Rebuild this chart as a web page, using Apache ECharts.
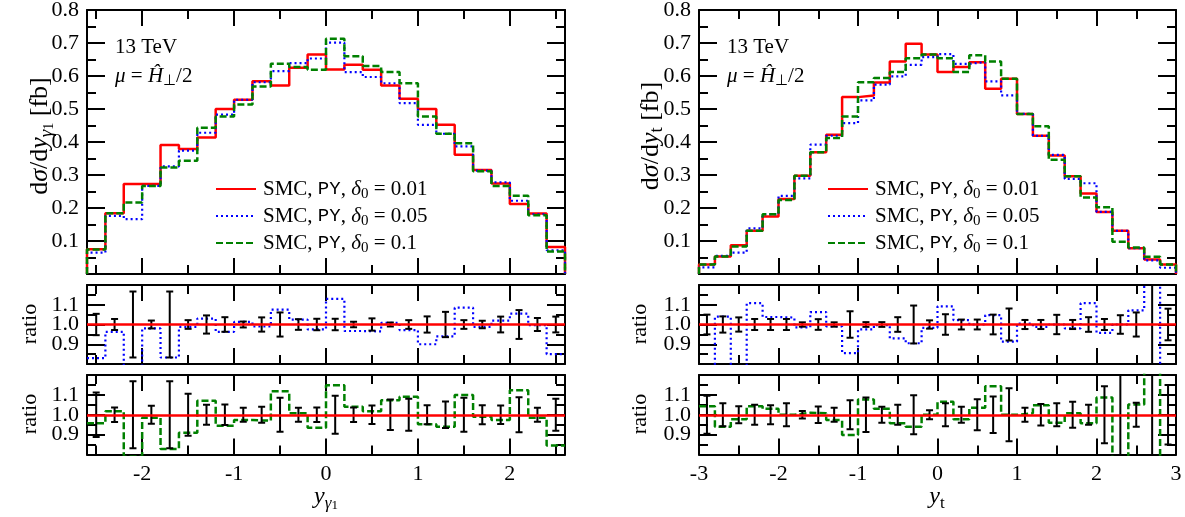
<!DOCTYPE html>
<html><head><meta charset="utf-8">
<script src="https://cdn.jsdelivr.net/npm/echarts@6/dist/echarts.min.js"></script>
<style>html,body{margin:0;padding:0;background:#fff}#c{width:1185px;height:517px}</style>
</head><body><div id="c"></div>
<script>
// ---------------- data ----------------
// left: y_gamma1, 26 bins of width 0.2 from -2.6 to 2.6
const leftBinStart = -2.6, leftBinWidth = 0.2;
const leftRed   = [0.075,0.184,0.273,0.273,0.391,0.379,0.414,0.500,0.528,0.584,0.571,0.625,0.665,0.620,0.634,0.619,0.571,0.531,0.500,0.452,0.361,0.315,0.274,0.212,0.183,0.082];
const leftBlue  = [0.065,0.176,0.166,0.267,0.326,0.374,0.428,0.483,0.528,0.581,0.615,0.639,0.653,0.701,0.612,0.597,0.578,0.518,0.452,0.425,0.387,0.313,0.278,0.222,0.181,0.072];
const leftGreen = [0.074,0.184,0.217,0.267,0.323,0.343,0.443,0.477,0.514,0.568,0.637,0.627,0.619,0.713,0.660,0.630,0.612,0.578,0.477,0.425,0.396,0.311,0.267,0.237,0.178,0.068];
const leftRatioBlue  = [0.83,0.963,0.60,0.98,0.833,0.988,1.03,0.963,1.013,0.99,1.075,1.025,0.975,1.13,0.967,0.965,1.008,0.972,0.90,0.94,1.085,0.988,1.02,1.055,0.997,0.85];
const leftRatioGreen = [0.957,1.018,0.79,0.985,0.828,0.91,1.07,0.945,0.973,0.97,1.118,1.007,0.935,1.148,1.04,1.018,1.073,1.09,0.952,0.94,1.10,0.99,0.973,1.123,0.985,0.845];
const leftErrBlue  = [0.054,0.028,0.167,0.020,0.167,0.022,0.046,0.037,0.015,0.036,0.061,0.027,0.029,0.029,0.014,0.031,0.010,0.022,0.041,0.064,0.022,0.019,0.040,0.073,0.033,0.040];
const leftErrGreen = [0.112,0.036,0.168,0.045,0.168,0.106,0.050,0.052,0.035,0.040,0.085,0.035,0.037,0.096,0.037,0.047,0.077,0.080,0.048,0.067,0.086,0.048,0.046,0.088,0.035,0.080];
const leftMajorTicks = [-2,-1,0,1,2];
const leftMinorTicks = [-2.5,-1.5,-0.5,0.5,1.5,2.5];
const leftRange = [-2.6, 2.6];

// right: y_t, 30 bins of width 0.2 from -3 to 3
const rightBinStart = -3, rightBinWidth = 0.2;
const rightRed   = [0.029,0.053,0.087,0.131,0.174,0.227,0.298,0.369,0.422,0.536,0.541,0.580,0.644,0.698,0.665,0.612,0.627,0.642,0.561,0.592,0.485,0.419,0.359,0.296,0.244,0.188,0.131,0.078,0.044,0.029];
const rightBlue  = [0.020,0.055,0.065,0.138,0.181,0.237,0.290,0.392,0.419,0.457,0.526,0.574,0.599,0.634,0.657,0.666,0.637,0.642,0.584,0.541,0.485,0.419,0.361,0.288,0.275,0.188,0.131,0.078,0.041,0.019];
const rightGreen = [0.029,0.053,0.083,0.131,0.181,0.224,0.298,0.369,0.412,0.477,0.581,0.594,0.612,0.654,0.665,0.654,0.612,0.663,0.644,0.592,0.485,0.448,0.346,0.296,0.232,0.202,0.098,0.080,0.052,0.029];
const rightRatioBlue  = [0.70,1.04,0.70,1.108,1.038,1.035,0.985,1.063,0.99,0.855,0.975,0.997,0.93,0.905,0.983,1.092,1.022,1.0,1.047,0.913,1.005,0.988,1.0,0.98,1.108,0.958,1.0,1.072,1.30,0.70];
const rightRatioGreen = [1.043,0.94,0.977,1.043,1.03,1.0,1.01,1.007,0.973,0.898,1.077,1.03,0.957,0.94,1.0,1.065,0.977,1.035,1.143,1.0,1.007,1.048,0.96,1.007,0.957,1.087,0.75,1.052,1.30,0.75];
const rightErrBlue  = [0.050,0.041,0.036,0.028,0.028,0.028,0.011,0.027,0.011,0.067,0.012,0.012,0.037,0.096,0.021,0.052,0.025,0.025,0.050,0.081,0.023,0.023,0.049,0.023,0.037,0.028,0.047,0.061,0.500,0.080];
const rightErrGreen = [0.096,0.058,0.043,0.050,0.048,0.058,0.019,0.042,0.035,0.073,0.087,0.040,0.050,0.098,0.023,0.058,0.040,0.078,0.092,0.133,0.035,0.054,0.058,0.065,0.050,0.143,0.500,0.060,0.500,0.150];
const rightRange = [-3, 3];

const yMainRange = [0, 0.8];
const yRatioRange = [0.8, 1.2];

const legendNames = ['SMC_001','SMC_005','SMC_01'];
const legendTexts = {
  'SMC_001': 'SMC, {tt|PY}, {it|δ}{sub|0} = 0.01',
  'SMC_005': 'SMC, {tt|PY}, {it|δ}{sub|0} = 0.05',
  'SMC_01':  'SMC, {tt|PY}, {it|δ}{sub|0} = 0.1'
};

// ---------------- styles ----------------
const FONT = '"Liberation Serif", "Times New Roman", serif';
const MONO = '"Liberation Mono", "DejaVu Sans Mono", monospace';
const FS = 21;
function richSet(fs) {
  const k = fs / 21;
  return {
    it:    {fontFamily: FONT, fontStyle: 'italic', fontSize: fs, lineHeight: Math.round(26 * k)},
    tt:    {fontFamily: MONO, fontSize: Math.round(19 * k), lineHeight: Math.round(26 * k)},
    sub:   {fontFamily: FONT, fontSize: Math.round(15 * k), lineHeight: Math.round(14 * k), verticalAlign: 'bottom'},
    subit: {fontFamily: FONT, fontStyle: 'italic', fontSize: Math.round(15 * k), lineHeight: Math.round(14 * k), verticalAlign: 'bottom'},
    subsub:{fontFamily: FONT, fontSize: Math.round(11 * k), lineHeight: Math.round(8 * k), verticalAlign: 'bottom'}
  };
}
const RICH = richSet(FS);
const RICH_BIG = richSet(24);
const RICH_Y = richSet(26);
const RED = {color: '#ff0000', width: 2.5, type: 'solid'};
const BLUE = {color: '#0000ff', width: 2.2, type: [2, 3]};
const GREEN = {color: '#008000', width: 2.5, type: [7, 3]};

function edges(start, width, n) { const e = []; for (let i = 0; i <= n; i++) e.push(+(start + i * width).toFixed(6)); return e; }
function histData(vals, e, closed) {
  const d = [];
  if (closed) d.push([e[0], 0]);
  vals.forEach((v, i) => d.push([e[i], v]));
  d.push([e[vals.length], vals[vals.length - 1]]);
  if (closed) d.push([e[vals.length], 0]);
  return d;
}
function errData(errs, e) { return errs.map((h, i) => [(e[i] + e[i + 1]) / 2, 1 - h, 1 + h]); }

const tickStyle = {color: '#000', width: 2};
const lineAx = {show: true, onZero: false, lineStyle: {color: '#000', width: 2}};
const noLine = {show: false, onZero: false};
const labelStyle = {fontFamily: FONT, fontSize: 22, color: '#000'};

const grids = [], xAxis = [], yAxis = [], series = [];

function addGrid(left, top, width, height) {
  grids.push({left, top, width, height, outerBoundsMode: 'none', containLabel: false, show: false});
  return grids.length - 1;
}
function addXAxes(gi, side, showLabels) {
  const primary = xAxis.length;
  if (side === 'L') {
    ['bottom', 'top'].forEach(pos => {
      xAxis.push({type: 'value', gridIndex: gi, position: pos, min: leftRange[0], max: leftRange[1],
        axisLine: lineAx, splitLine: {show: false}, minorSplitLine: {show: false},
        axisTick: {show: true, inside: true, length: 16, customValues: leftMajorTicks, lineStyle: tickStyle},
        axisLabel: (pos === 'bottom' && showLabels) ?
          Object.assign({show: true, customValues: leftMajorTicks, margin: 9, formatter: v => String(v)}, labelStyle) : {show: false}
      });
      xAxis.push({type: 'value', gridIndex: gi, position: pos, min: leftRange[0], max: leftRange[1],
        axisLine: noLine, splitLine: {show: false},
        axisTick: {show: true, inside: true, length: 9, customValues: leftMinorTicks, lineStyle: tickStyle},
        axisLabel: {show: false}
      });
    });
  } else {
    ['bottom', 'top'].forEach(pos => {
      xAxis.push({type: 'value', gridIndex: gi, position: pos, min: rightRange[0], max: rightRange[1], interval: 1,
        axisLine: lineAx, splitLine: {show: false}, minorSplitLine: {show: false},
        axisTick: {show: true, inside: true, length: 16, lineStyle: tickStyle},
        minorTick: {show: true, splitNumber: 2, length: 9, lineStyle: tickStyle},
        axisLabel: (pos === 'bottom' && showLabels) ?
          Object.assign({show: true, margin: 9, showMinLabel: true, showMaxLabel: true, formatter: v => String(v)}, labelStyle) : {show: false}
      });
    });
  }
  return primary;
}
function addYAxes(gi, kind) {
  const primary = yAxis.length;
  const r = kind === 'main' ? yMainRange : yRatioRange;
  const fmt = kind === 'main' ? (v => v < 1e-6 ? '' : v.toFixed(1)) : (v => (v < 0.85 || v > 1.15) ? '' : v.toFixed(1));
  ['left', 'right'].forEach(pos => {
    yAxis.push({type: 'value', gridIndex: gi, position: pos, min: r[0], max: r[1], interval: 0.1,
      axisLine: lineAx, splitLine: {show: false}, minorSplitLine: {show: false},
      axisTick: {show: true, inside: true, length: 18, lineStyle: tickStyle},
      minorTick: {show: true, splitNumber: 2, length: 9, lineStyle: tickStyle},
      axisLabel: pos === 'left' ? Object.assign({show: true, margin: 8, formatter: fmt}, labelStyle) : {show: false}
    });
  });
  return primary;
}
function stepSeries(name, xi, yi, data, ls, z) {
  return {type: 'line', name, xAxisIndex: xi, yAxisIndex: yi, data, step: 'end', symbol: 'none', showSymbol: false,
    lineStyle: ls, itemStyle: {color: ls.color}, clip: true, silent: true, z, animation: false};
}
function errSeries(xi, yi, data) {
  return {type: 'custom', xAxisIndex: xi, yAxisIndex: yi, data, clip: true, silent: true, z: 4,
    renderItem: (params, api) => {
      const x = api.value(0);
      const p1 = api.coord([x, api.value(1)]), p2 = api.coord([x, api.value(2)]);
      const cw = 3.5, st = {stroke: '#000', lineWidth: 2};
      return {type: 'group', children: [
        {type: 'line', shape: {x1: p1[0], y1: p1[1], x2: p2[0], y2: p2[1]}, style: st},
        {type: 'line', shape: {x1: p1[0] - cw, y1: p1[1], x2: p1[0] + cw, y2: p1[1]}, style: st},
        {type: 'line', shape: {x1: p2[0] - cw, y1: p2[1], x2: p2[0] + cw, y2: p2[1]}, style: st}
      ]};
    }};
}
function refSeries(xi, yi) {
  return {type: 'line', xAxisIndex: xi, yAxisIndex: yi, data: [], silent: true, z: 5, symbol: 'none',
    markLine: {silent: true, symbol: 'none', animation: false, label: {show: false},
      lineStyle: {color: '#ff0000', width: 2.5, type: 'solid'}, data: [{yAxis: 1}]}};
}

const panels = [
  {side: 'L', left: 87, width: 478, e: edges(leftBinStart, leftBinWidth, leftRed.length),
   red: leftRed, blue: leftBlue, green: leftGreen, rb: leftRatioBlue, rg: leftRatioGreen, eb: leftErrBlue, eg: leftErrGreen},
  {side: 'R', left: 699, width: 477, e: edges(rightBinStart, rightBinWidth, rightRed.length),
   red: rightRed, blue: rightBlue, green: rightGreen, rb: rightRatioBlue, rg: rightRatioGreen, eb: rightErrBlue, eg: rightErrGreen}
];

panels.forEach(p => {
  let g = addGrid(p.left, 10, p.width, 264);
  let xi = addXAxes(g, p.side, false), yi = addYAxes(g, 'main');
  series.push(stepSeries(legendNames[0], xi, yi, histData(p.red, p.e, true), RED, 2));
  series.push(stepSeries(legendNames[1], xi, yi, histData(p.blue, p.e, true), BLUE, 3));
  series.push(stepSeries(legendNames[2], xi, yi, histData(p.green, p.e, true), GREEN, 4));
  g = addGrid(p.left, 285, p.width, 79);
  xi = addXAxes(g, p.side, false); yi = addYAxes(g, 'ratio');
  series.push(stepSeries('rb', xi, yi, histData(p.rb, p.e, false), BLUE, 2));
  series.push(errSeries(xi, yi, errData(p.eb, p.e)));
  series.push(refSeries(xi, yi));
  g = addGrid(p.left, 375, p.width, 79.5);
  xi = addXAxes(g, p.side, true); yi = addYAxes(g, 'ratio');
  series.push(stepSeries('rg', xi, yi, histData(p.rg, p.e, false), GREEN, 2));
  series.push(errSeries(xi, yi, errData(p.eg, p.e)));
  series.push(refSeries(xi, yi));
});

function legendAt(left) {
  return {left, top: 171, orient: 'vertical', itemWidth: 40, itemHeight: 14, itemGap: 1, selectedMode: false,
    data: legendNames, formatter: n => legendTexts[n], itemStyle: {opacity: 0},
    textStyle: {fontFamily: FONT, fontSize: FS, color: '#000', lineHeight: 26, rich: RICH, padding: [0, 0, 0, 2]}};
}

function txt(x, y, text) {
  return {type: 'text', x, y, silent: true,
    style: {text, fill: '#000', fontFamily: FONT, fontSize: FS, lineHeight: 26, rich: RICH, align: 'left', verticalAlign: 'middle'}};
}
function vtxt(x, y, text, fs, rich) {
  return {type: 'text', x, y, rotation: Math.PI / 2, silent: true,
    style: {text, fill: '#000', fontFamily: FONT, fontSize: fs, lineHeight: Math.round(26 * fs / 21), rich, align: 'center', verticalAlign: 'middle'}};
}
function ctxt(x, y, text) {
  return {type: 'text', x, y, silent: true,
    style: {text, fill: '#000', fontFamily: FONT, fontSize: 24, lineHeight: 30, rich: RICH_BIG, align: 'center', verticalAlign: 'middle'}};
}

const graphic = [
  txt(115, 47, '13 TeV'), txt(115, 76, '{it|μ} = {it|Ĥ}{sub|⊥}/2'),
  txt(727, 47, '13 TeV'), txt(727, 76, '{it|μ} = {it|Ĥ}{sub|⊥}/2'),
  vtxt(40, 136, 'd{it|σ}/d{it|y}{subit|γ}{subsub|1} [fb]', 26, RICH_Y),
  vtxt(651, 136, 'd{it|σ}/d{it|y}{sub|t} [fb]', 26, RICH_Y),
  vtxt(30, 324, 'ratio', 22, richSet(22)), vtxt(30, 414, 'ratio', 22, richSet(22)),
  vtxt(640, 324, 'ratio', 22, richSet(22)), vtxt(640, 414, 'ratio', 22, richSet(22)),
  ctxt(326, 497, '{it|y}{subit|γ}{subsub|1}'),
  ctxt(937, 497, '{it|y}{sub|t}')
];

const chart = echarts.init(document.getElementById('c'), null, {renderer: 'canvas'});
chart.setOption({
  animation: false,
  backgroundColor: '#fff',
  grid: grids, xAxis, yAxis, series,
  legend: [legendAt(210), legendAt(822)],
  graphic
});
</script></body></html>
